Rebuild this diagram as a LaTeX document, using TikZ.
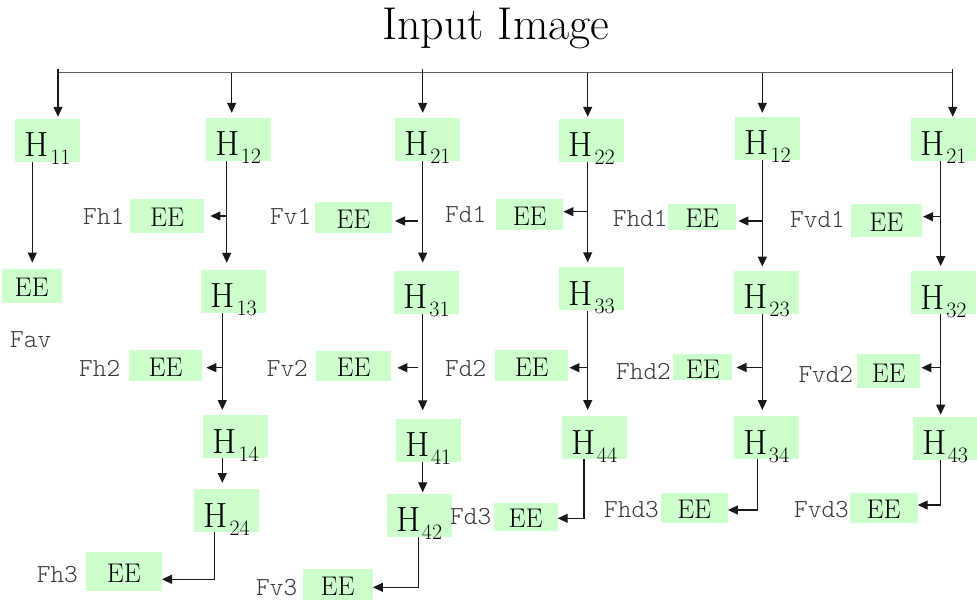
\documentclass[tikz,border=0pt]{standalone}
\usetikzlibrary{arrows.meta}
\definecolor{boxgreen}{RGB}{204,255,204}
\definecolor{linegray}{RGB}{95,95,95}
\definecolor{inkgray}{RGB}{25,25,25}
\definecolor{labelgray}{RGB}{55,55,55}
% H with a lowered index
\newcommand{\Hsub}[1]{H\kern1.5pt\raisebox{-8pt}{\fontsize{22}{22}\selectfont #1}}
\begin{document}
\begin{tikzpicture}[x=1pt,y=-1pt,
  titletext/.style={inner sep=0pt, font=\fontsize{46}{52}\selectfont},
  hbox/.style={fill=boxgreen, inner sep=0pt, minimum width=65pt, minimum height=43pt,
    text height=33pt, text depth=0pt, font=\fontsize{35}{40}\selectfont},
  eebox/.style={fill=boxgreen, inner sep=0pt, minimum height=31pt,
    text height=22pt, text depth=0pt, font=\fontsize{27}{30}\selectfont},
  lbl/.style={inner sep=0pt, anchor=west, text=labelgray,
    font=\ttfamily\fontseries{l}\fontsize{26}{28}\selectfont},
  bar/.style={draw=linegray, line width=1.4pt},
  arr/.style={draw=inkgray, line width=1.25pt, -{Triangle[length=10pt,width=9pt]}}
]
\useasboundingbox (0,0) rectangle (977,601);

% title and distribution bar
\node[titletext, anchor=base] (title) at (495.8,39.3) {Input Image};
\coordinate (barL) at (58,72.7);
\coordinate (barR) at (952.7,72.7);
\draw[bar] (58,69) -- (barL) -- (barR) -- (952.7,69);

\coordinate (s1) at (58,69);
\coordinate (s2) at (231.7,72.7);
\coordinate (s3) at (422.7,69);
\coordinate (s4) at (587.7,72.7);
\coordinate (s5) at (762.3,72.7);
\coordinate (s6) at (952.7,69);

% first-level filters
\node[hbox] (h11)  at (47.5,140.5) {\Hsub{11}};
\node[hbox] (h12a) at (238,139.5)  {\Hsub{12}};
\node[hbox] (h21a) at (427.5,139.5) {\Hsub{21}};
\node[hbox] (h22)  at (591.8,140.5) {\Hsub{22}};
\node[hbox] (h12b) at (767.8,138.5) {\Hsub{12}};
\node[hbox] (h21b) at (943.5,139.5) {\Hsub{21}};

% second level
\node[hbox] (h13) at (233.8,291.5) {\Hsub{13}};
\node[hbox] (h31) at (426.7,292.3) {\Hsub{31}};
\node[hbox] (h33) at (591.8,289)   {\Hsub{33}};
\node[hbox] (h23) at (766.7,292.3) {\Hsub{23}};
\node[hbox] (h32) at (943.5,292.8) {\Hsub{32}};

% third level
\node[hbox] (h14) at (235.8,436.7) {\Hsub{14}};
\node[hbox] (h41) at (428.3,440)   {\Hsub{41}};
\node[hbox] (h44) at (594.2,437.7) {\Hsub{44}};
\node[hbox] (h34) at (766.2,437.7) {\Hsub{34}};
\node[hbox] (h43) at (945,438.3)   {\Hsub{43}};

% fourth level
\node[hbox] (h24) at (226.8,510.7) {\Hsub{24}};
\node[hbox] (h42) at (419.2,515)   {\Hsub{42}};

% energy estimators
\node[eebox, minimum width=60pt, minimum height=34pt] (e11)  at (31.7,285.8)  {EE};
\node[eebox, minimum width=74pt, minimum height=34pt] (fh1)  at (167.2,216)   {EE};
\node[eebox, minimum width=77pt] (fv1)  at (353.3,217.3) {EE};
\node[eebox, minimum width=67pt] (fd1)  at (529.7,214.7) {EE};
\node[eebox, minimum width=68pt, minimum height=26pt] (fhd1) at (702.2,217) {EE};
\node[eebox, minimum width=71pt, minimum height=33pt] (fvd1) at (886.3,220.7) {EE};
\node[eebox, minimum width=73pt] (fh2)  at (165.7,365.3) {EE};
\node[eebox, minimum width=75pt, minimum height=30pt] (fv2)  at (353.7,365.8) {EE};
\node[eebox, minimum width=73pt] (fd2)  at (531.7,365.3) {EE};
\node[eebox, minimum width=59pt, minimum height=26pt] (fhd2) at (702.8,367.5) {EE};
\node[eebox, minimum width=63pt, minimum height=34pt] (fvd2) at (888.7,371.3) {EE};
\node[eebox, minimum width=76pt, minimum height=39pt] (fh3)  at (123.8,571.3) {EE};
\node[eebox, minimum width=70pt] (fv3)  at (337.7,584.5) {EE};
\node[eebox, minimum width=64pt, minimum height=28pt] (fd3)  at (525.5,516.7) {EE};
\node[eebox, minimum width=67pt, minimum height=30pt] (fhd3) at (694.2,507.5) {EE};
\node[eebox, minimum width=68pt, minimum height=30pt] (fvd3) at (883.5,507.5) {EE};

% feature labels
\node[lbl] (lfav)  at (10,340)    {Fav};
\node[lbl] (lfh1)  at (83,216)    {Fh1};
\node[lbl] (lfv1)  at (270,216)   {Fv1};
\node[lbl] (lfd1)  at (445,214.7) {Fd1};
\node[lbl] (lfhd1) at (612.7,218.3) {Fhd1};
\node[lbl] (lfvd1) at (790,219.5) {Fvd1};
\node[lbl] (lfh2)  at (79,368)    {Fh2};
\node[lbl] (lfv2)  at (266.7,368) {Fv2};
\node[lbl] (lfd2)  at (445,368)   {Fd2};
\node[lbl] (lfhd2) at (616,371)   {Fhd2};
\node[lbl] (lfvd2) at (798.3,374.3) {Fvd2};
\node[lbl] (lfh3)  at (36.7,574.3) {Fh3};
\node[lbl] (lfv3)  at (256,588)   {Fv3};
\node[lbl] (lfd3)  at (450,516.7) {Fd3};
\node[lbl] (lfhd3) at (604,510)   {Fhd3};
\node[lbl] (lfvd3) at (794,510)   {Fvd3};

% column lines
\coordinate (c1)  at (32.3,0);
\coordinate (c2a) at (226.7,0);
\coordinate (c2b) at (222.3,0);
\coordinate (c2c) at (214.3,0);
\coordinate (c3)  at (422.7,0);
\coordinate (c3b) at (418.3,0);
\coordinate (c4)  at (587.7,0);
\coordinate (c4b) at (584,0);
\coordinate (c5)  at (762.3,0);
\coordinate (c5b) at (757.7,0);
\coordinate (c6)  at (940.7,0);

% branch points on the estimators
\coordinate (bfh1)  at (fh1.east);
\coordinate (bfv1)  at ([yshift=-3.7pt]fv1.east);
\coordinate (bfd1)  at ([yshift=3pt]fd1.east);
\coordinate (bfhd1) at ([yshift=-4pt]fhd1.east);
\coordinate (bfvd1) at ([yshift=4pt]fvd1.east);
\coordinate (bfh2)  at ([yshift=-2.4pt]fh2.east);
\coordinate (bfv2)  at ([yshift=-2pt]fv2.east);
\coordinate (bfd2)  at ([yshift=-2.4pt]fd2.east);
\coordinate (bfhd2) at (fhd2.east);
\coordinate (bfvd2) at ([yshift=3.6pt]fvd2.east);
\coordinate (bfh3)  at ([yshift=-8pt]fh3.east);
\coordinate (bfv3)  at ([yshift=-2.8pt]fv3.east);
\coordinate (bfd3)  at ([yshift=-1.6pt]fd3.east);
\coordinate (bfhd3) at ([yshift=-2.5pt]fhd3.east);
\coordinate (bfvd3) at ([yshift=2.5pt]fvd3.east);

% bar to first level
\draw[arr, shorten >=2pt] (s1) -- (s1 |- h11.north);
\draw[arr, shorten >=5pt] (s2) -- (s2 |- h12a.north);
\draw[arr, shorten >=5pt] (s3) -- (s3 |- h21a.north);
\draw[arr, shorten >=2pt] (s4) -- (s4 |- h22.north);
\draw[arr, shorten >=4pt] (s5) -- (s5 |- h12b.north);
\draw[arr, shorten >=1pt] (s6) -- (s6 |- h21b.north);

% column 1
\draw[arr, shorten >=6pt] (h11.south -| c1) -- (e11.north -| c1);

% column 2
\draw[arr, shorten >=7pt] (h12a.south -| c2a) -- (h13.north -| c2a);
\draw[arr, shorten >=6pt] (c2a |- bfh1) -- (bfh1);
\draw[arr, shorten >=5pt] (h13.south -| c2b) -- (h14.north -| c2b);
\draw[arr, shorten >=4pt] (c2b |- bfh2) -- (bfh2);
\draw[arr, shorten >=6pt] (h14.south -| c2b) -- (h24.north -| c2b);
\draw[arr] (h24.south -| c2c) |- (bfh3);

% column 3
\draw[arr, shorten >=8pt] (h21a.south -| c3) -- (h31.north -| c3);
\draw[arr, shorten <=4.5pt, shorten >=3pt] (c3 |- bfv1) -- (bfv1);
\draw[arr, shorten >=8pt] (h31.south -| c3) -- (h41.north -| c3);
\draw[arr, shorten <=4.5pt, shorten >=6pt] (c3 |- bfv2) -- (bfv2);
\draw[arr, shorten >=1pt] (h41.south -| c3) -- (h42.north -| c3);
\draw[arr] (h42.south -| c3b) |- (bfv3);

% column 4
\draw[arr, shorten >=5pt] (h22.south -| c4) -- (h33.north -| c4);
\draw[arr] (c4 |- bfd1) -- (bfd1);
\draw[arr, shorten >=6pt] (h33.south -| c4) -- (h44.north -| c4);
\draw[arr, shorten >=1pt] (c4 |- bfd2) -- (bfd2);
\draw[arr] (h44.south -| c4b) |- (bfd3);

% column 5
\draw[arr, shorten >=4pt] (h12b.south -| c5) -- (h23.north -| c5);
\draw[arr, shorten >=2pt] (c5 |- bfhd1) -- (bfhd1);
\draw[arr, shorten >=6pt] (h23.south -| c5) -- (h34.north -| c5);
\draw[arr, shorten >=4pt] (c5 |- bfhd2) -- (bfhd2);
\draw[arr] (h34.south -| c5b) |- (bfhd3);

% column 6
\draw[arr, shorten >=5pt] (h21b.south -| c6) -- (h32.north -| c6);
\draw[arr, shorten >=1pt] (c6 |- bfvd1) -- (bfvd1);
\draw[arr, shorten >=2pt] (h32.south -| c6) -- (h43.north -| c6);
\draw[arr, shorten >=1pt] (c6 |- bfvd2) -- (bfvd2);
\draw[arr] (h43.south -| c6) |- (bfvd3);
\end{tikzpicture}
\end{document}
